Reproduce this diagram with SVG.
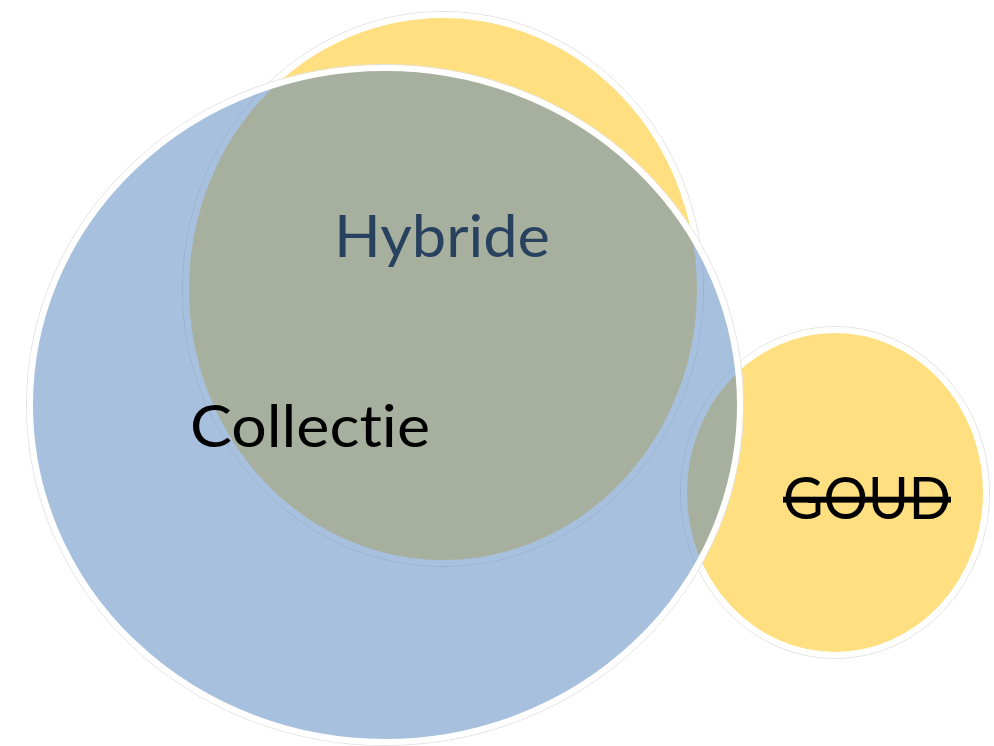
<svg xmlns="http://www.w3.org/2000/svg" width="994" height="746" viewBox="0 0 994 746">
  <style>
    .halo { fill: none; stroke: #e2e2e2; stroke-width: 1; }
    .gold { fill: #FFC000; fill-opacity: 0.5; stroke: #ffffff; stroke-width: 6; }
    .blue { fill: #4F81BD; fill-opacity: 0.5; stroke: #ffffff; stroke-width: 6; }
    .label { font-family: Lato, "Open Sans", "Liberation Sans", sans-serif; font-size: 59px; fill: #000000; font-variant-ligatures: none; font-feature-settings: "liga" 0, "clig" 0; }
  </style>
  <rect width="994" height="746" fill="#ffffff"/>
  <g id="connectors"/>
  <g id="node-hybride">
    <ellipse class="halo" cx="443" cy="289" rx="260.5" ry="277.5"/>
    <ellipse class="gold" cx="443" cy="289" rx="257" ry="274"/>
    <text class="label" x="334" y="257" textLength="216" lengthAdjust="spacingAndGlyphs">Hybride</text>
  </g>
  <g id="node-goud">
    <ellipse class="halo" cx="835" cy="492.5" rx="154.5" ry="166"/>
    <ellipse class="gold" cx="835" cy="492.5" rx="151" ry="162.5"/>
    <text class="label" x="783" y="519" textLength="168" lengthAdjust="spacingAndGlyphs" text-decoration="line-through">GOUD</text>
  </g>
  <g id="node-collectie">
    <ellipse class="halo" cx="385" cy="405" rx="358.5" ry="340.5"/>
    <ellipse class="blue" cx="385" cy="405" rx="355" ry="337"/>
    <text class="label" x="190" y="447" textLength="240" lengthAdjust="spacingAndGlyphs">Collectie</text>
  </g>
</svg>
